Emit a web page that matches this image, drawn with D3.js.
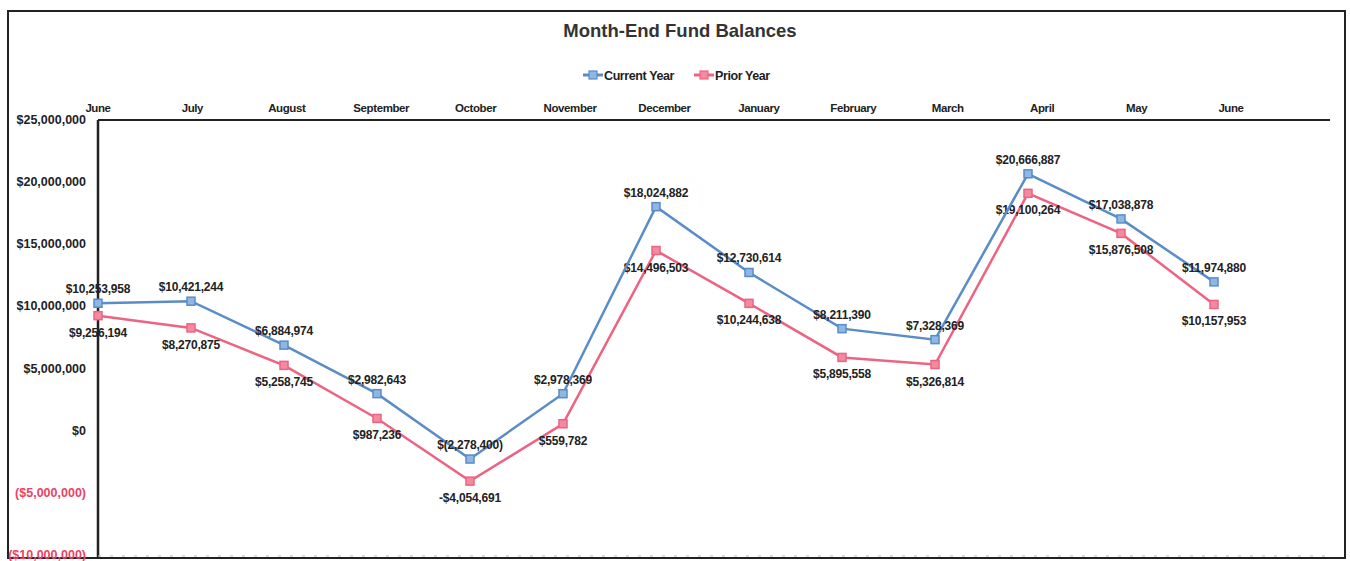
<!DOCTYPE html>
<html>
<head>
<meta charset="utf-8">
<script src="https://cdn.jsdelivr.net/npm/d3@7"></script>
<style>
  body { margin: 0; background: #fff; }
  text { font-family: Arial, "Liberation Sans", sans-serif; }
</style>
</head>
<body>
<svg id="chart" width="1350" height="561"></svg>
<script>
// month-end balances, June through June
let months = ["June", "July", "August", "September", "October", "November", "December",
              "January", "February", "March", "April", "May", "June"];
let currentYear = [10253958, 10421244, 6884974, 2982643, -2278400, 2978369, 18024882,
                   12730614, 8211390, 7328369, 20666887, 17038878, 11974880];
let priorYear = [9256194, 8270875, 5258745, 987236, -4054691, 559782, 14496503,
                 10244638, 5895558, 5326814, 19100264, 15876508, 10157953];
let yTicks = [25000000, 20000000, 15000000, 10000000, 5000000, 0, -5000000, -10000000];

let svg = d3.select("#chart");
let blue = "#5a8cc8", pink = "#ec6482";

// outer frame
svg.append("rect").attr("x", 8).attr("y", 11).attr("width", 1337).attr("height", 547)
    .attr("fill", "none").attr("stroke", "#222").attr("stroke-width", 2);

svg.append("text").attr("x", 680).attr("y", 37).attr("text-anchor", "middle")
    .attr("font-size", 18.5).attr("font-weight", "bold").attr("fill", "#333")
    .text("Month-End Fund Balances");

let xScale = d3.scalePoint().domain(d3.range(months.length)).range([98, 1214]);
let labelScale = d3.scalePoint().domain(d3.range(months.length)).range([98, 1231]);
let yScale = d3.scaleLinear().domain([-10000000, 25000000]).range([555, 120]);

// month labels across the top
svg.append("g").selectAll("text").data(months).join("text")
    .attr("x", (d, i) => labelScale(i)).attr("y", 112).attr("text-anchor", "middle")
    .attr("font-size", 11.5).attr("font-weight", "bold").attr("fill", "#222")
    .attr("letter-spacing", -0.4)
    .text(d => d);

// axes lines
svg.append("line").attr("x1", 98).attr("x2", 1330).attr("y1", 120).attr("y2", 120)
    .attr("stroke", "#222").attr("stroke-width", 2);
svg.append("line").attr("x1", 98).attr("x2", 98).attr("y1", 120).attr("y2", 557)
    .attr("stroke", "#222").attr("stroke-width", 2.5);
svg.append("line").attr("x1", 98).attr("x2", 1330).attr("y1", 556).attr("y2", 556)
    .attr("stroke", "#bbb").attr("stroke-width", 1).attr("stroke-dasharray", "3,9");

let money = d3.format("$,.0f");
let yFmt = v => v < 0 ? "(" + money(-v) + ")" : money(v);
svg.append("g").selectAll("text").data(yTicks).join("text")
    .attr("x", 86).attr("y", d => yScale(d) + 4).attr("text-anchor", "end")
    .attr("font-size", 12.5).attr("font-weight", "bold")
    .attr("fill", d => d < 0 ? "#ec4262" : "#222")
    .text(yFmt);

// series
let series = [
    {name: "Current Year", values: currentYear, color: blue, fill: "#8fb7e3", above: true,
     fmt: v => v < 0 ? "$(" + d3.format(",.0f")(-v) + ")" : money(v)},
    {name: "Prior Year", values: priorYear, color: pink, fill: "#f38aa0", above: false,
     fmt: v => v < 0 ? "-" + money(-v) : money(v)}
];

let line = d3.line().x((d, i) => xScale(i)).y(d => yScale(d));

for (let s of [series[1], series[0]]) {
    let g = svg.append("g");
    g.append("path").datum(s.values).attr("d", line)
        .attr("fill", "none").attr("stroke", s.color).attr("stroke-width", 2.5);
    g.selectAll("rect").data(s.values).join("rect")
        .attr("x", (d, i) => xScale(i) - 4).attr("y", d => yScale(d) - 4)
        .attr("width", 8).attr("height", 8)
        .attr("fill", s.fill).attr("stroke", s.color).attr("stroke-width", 1.5);
    g.selectAll("text").data(s.values).join("text")
        .attr("x", (d, i) => xScale(i))
        .attr("y", d => s.above ? yScale(d) - 10 : yScale(d) + 21)
        .attr("text-anchor", "middle")
        .attr("font-size", 12).attr("font-weight", "bold").attr("fill", "#222")
        .attr("letter-spacing", -0.2)
        .text(d => s.fmt(d));
}

// legend
let legend = svg.append("g");
let lx = [583, 694];
series.forEach(function (s, i) {
    let item = legend.append("g").attr("transform", "translate(" + lx[i] + ",75)");
    item.append("line").attr("x1", 0).attr("x2", 20).attr("stroke", s.color).attr("stroke-width", 3);
    item.append("rect").attr("x", 6).attr("y", -4).attr("width", 8).attr("height", 8)
        .attr("fill", s.fill).attr("stroke", s.color).attr("stroke-width", 1.2);
    item.append("text").attr("x", 21).attr("y", 4.5).attr("font-size", 12.5)
        .attr("font-weight", "bold").attr("fill", "#222").attr("letter-spacing", -0.4)
        .text(s.name);
});
</script>
</body>
</html>
